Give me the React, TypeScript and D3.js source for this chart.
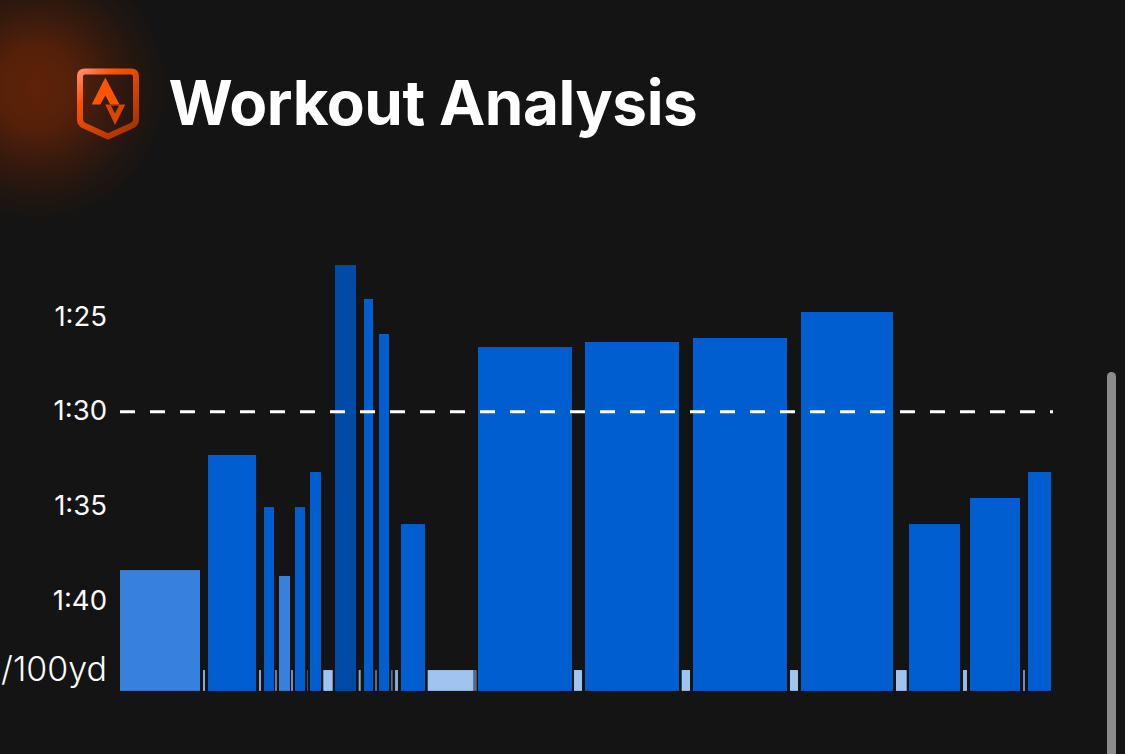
import React from "react";
import * as d3 from "d3";

const title = "Workout Analysis";
const unitLabel = "/100yd";
const paceTicks = [85, 90, 95, 100];
const targetPace = 90;

// swim intervals: elapsed-time start, end (s) and pace (s per 100yd)
const workStart = [0, 88, 144, 159, 175, 190, 215, 244, 259, 281, 358, 465, 573, 681, 789, 850, 908];
const workEnd = [80, 136, 154, 170, 185, 201, 236, 253, 269, 305, 452, 559, 667, 773, 840, 900, 931];
const workPace = [98.42, 92.34, 95.09, 98.73, 95.09, 93.24, 82.31, 84.1, 85.95, 95.99, 86.64, 86.37, 86.16, 84.79, 95.99, 94.61, 93.24];
const workEffort = ["easy", "mod", "mod", "easy", "mod", "mod", "hard", "mod", "mod", "mod", "mod", "mod", "mod", "mod", "mod", "mod", "mod"];

// rest segments
const restStart = [83, 139, 155, 171, 187, 203.3, 238.7, 255, 271, 275, 307.7, 353.3, 454, 561.7, 670, 776, 843, 903];
const restEnd = [85, 141, 157, 173, 188, 212.7, 240.7, 257, 272.7, 278, 353.3, 356.7, 462, 570, 678, 786.7, 847, 905];
const restOpacity = [0.85, 0.85, 0.6, 0.7, 0.35, 1, 0.85, 0.5, 0.5, 0.85, 1, 0.5, 1, 1, 1, 1, 0.95, 0.7];
const restPace = 103.7;
const basePace = 104.8;

const effortColor: Record<string, string> = { easy: "#3780dc", mod: "#005ed0", hard: "#004ba8" };
const fontFamily = "Inter, Roboto, sans-serif";

export default function App() {
  const W = 1125, H = 754;
  const x = d3.scaleLinear().domain([0, 931]).range([120, 1051]);
  const y = d3.scaleLinear().domain([85, 100]).range([316, 600]);
  const base = y(basePace);
  const dash = d3.line()([[x(0), y(targetPace) + 1], [x(933), y(targetPace) + 1]]) as string;
  return (
    <svg width={W} height={H} viewBox={`0 0 ${W} ${H}`} style={{ position: "fixed", left: 0, top: 0, background: "#141414", fontFamily }}>
      <defs>
        <radialGradient id="glow">
          <stop offset="0%" stopColor="#5e2208" />
          <stop offset="30%" stopColor="#54200a" />
          <stop offset="60%" stopColor="#32190e" />
          <stop offset="82%" stopColor="#1e1611" />
          <stop offset="100%" stopColor="#141414" />
        </radialGradient>
        <linearGradient id="shield" x1="0" y1="0" x2="0.8" y2="1">
          <stop offset="0%" stopColor="#ff8a68" />
          <stop offset="30%" stopColor="#fc5200" />
          <stop offset="100%" stopColor="#a83200" />
        </linearGradient>
      </defs>
      <rect width={W} height={H} fill="#141414" />
      <circle cx={36} cy={88} r={135} fill="url(#glow)" />
      <path d="M85 71.5 H131 Q136 71.5 136 76.5 V120 Q136 124 131 126 L108 136.5 L85 126 Q80 124 80 120 V76.5 Q80 71.5 85 71.5 Z"
        fill="none" stroke="url(#shield)" strokeWidth={6} />
      <path d="M105.3 77.5 L119.5 104.5 H110.3 L105.3 95.5 L100.3 104.5 H91.7 Z" fill="#fc5500" />
      <path d="M105.3 104.5 H125.3 L115 125 Z M110.8 105.5 L115 113.5 L119 105.5 Z" fill="#d84600" fillRule="evenodd" />
      <text x={168.5} y={125} fill="#fff" fontSize={62} fontWeight={700} style={{ letterSpacing: "-0.45px" }}>{title}</text>

      {restStart.map((s, i) => (
        <rect key={`r${i}`} x={x(s)} width={x(restEnd[i]) - x(s)} y={y(restPace)} height={base - y(restPace)} fill="#a0c3f0" opacity={restOpacity[i]} />
      ))}
      {workStart.map((s, i) => (
        <rect key={`w${i}`} x={x(s)} width={x(workEnd[i]) - x(s)} y={y(workPace[i])} height={base - y(workPace[i])} fill={effortColor[workEffort[i]]} />
      ))}
      <path d={dash} stroke="#fff" strokeWidth={3} strokeDasharray="15 15" fill="none" />

      {paceTicks.map(t => (
        <text key={t} x={107} y={y(t) + 9.5} textAnchor="end" fill="#fafafa" fontSize={27.5} fontWeight={400}>
          {`${Math.floor(t / 60)}:${String(t % 60).padStart(2, "0")}`}
        </text>
      ))}
      <text x={107} y={681} textAnchor="end" fill="#fafafa" fontSize={34} fontWeight={300}>{unitLabel}</text>

      <rect x={1107} y={372} width={9} height={H} rx={4.5} fill="#8c8c8c" />
    </svg>
  );
}
